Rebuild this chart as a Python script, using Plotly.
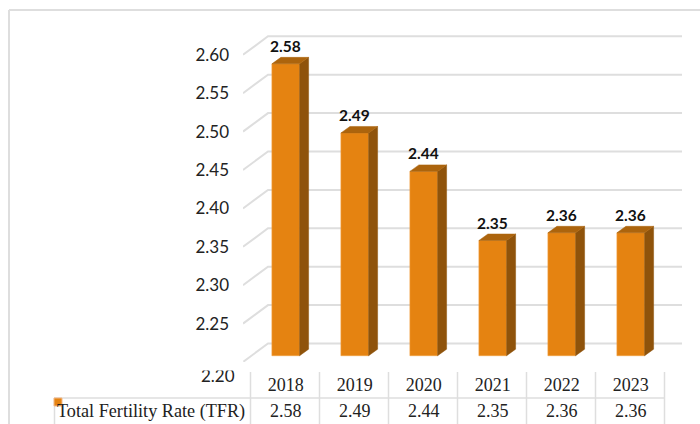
import plotly.graph_objects as go

years = ["2018", "2019", "2020", "2021", "2022", "2023"]
tfr = [2.58, 2.49, 2.44, 2.35, 2.36, 2.36]
series_name = "Total Fertility Rate (TFR)"
tick_vals = [2.25, 2.30, 2.35, 2.40, 2.45, 2.50, 2.55, 2.60]

W, H = 700, 424
L, R, T, B = 243, 682, 30, 362   # plot area in px
PX_X = 69.0      # px per category
PX_Y = 768.0     # px per unit
X0 = 285.75      # px of first category centre
BASE = 2.20

xs = list(range(len(years)))
bar_w = 27.7 / PX_X
ddx, ddy = 9 / PX_X, 6.5 / PX_Y
wdx, wdy = 25 / PX_X, 18.5 / PX_Y
xr = [(L - X0) / PX_X, (R - X0) / PX_X]
yr = [BASE, BASE + (B - T) / PX_Y]
plane = 6.3 / PX_Y
yr2 = [yr[0] - plane, yr[1] - plane]

fig = go.Figure()

# back wall grid with floor-wall diagonals
gx, gy = [], []
for v in [BASE] + tick_vals:
    gx += [xr[0], xr[0] + wdx, xr[1], None]
    gy += [v, v + wdy, v + wdy, None]
fig.add_trace(go.Scatter(x=gx, y=gy, mode="lines", line=dict(color="#DEDEDE", width=2),
                         hoverinfo="skip", showlegend=False, yaxis="y", cliponaxis=False))

# bars (front faces)
fig.add_trace(go.Bar(x=xs, y=[v - BASE for v in tfr], base=BASE, width=bar_w, yaxis="y2",
                     marker=dict(color="#E58311", line=dict(color="#F0A040", width=0.6)),
                     name=series_name, showlegend=False))

# side and top faces
sx, sy, tx, ty = [], [], [], []
for x, v in zip(xs, tfr):
    r = x + bar_w / 2
    l = x - bar_w / 2
    sx += [r, r + ddx, r + ddx, r, r, None]
    sy += [BASE, BASE + ddy, v + ddy, v, BASE, None]
    tx += [l, r, r + ddx, l + ddx, l, None]
    ty += [v, v, v + ddy, v + ddy, v, None]
fig.add_trace(go.Scatter(x=sx, y=sy, mode="lines", fill="toself", fillcolor="#8F530B",
                         line=dict(color="#8F530B", width=0.5), yaxis="y2",
                         hoverinfo="skip", showlegend=False))
fig.add_trace(go.Scatter(x=tx, y=ty, mode="lines", fill="toself", fillcolor="#AC640D",
                         line=dict(color="#AC640D", width=0.5), yaxis="y2",
                         hoverinfo="skip", showlegend=False))


def dx(x):
    return (x - L) / (R - L)


def dy(y):
    return (B - y) / (B - T)


annotations = []
# displaced bottom tick label, its top covered by a blank white box
annotations.append(dict(x=dx(237), y=dy(375.5), xref="paper", yref="paper", xanchor="right",
                        yanchor="middle", text="2.20", showarrow=False,
                        font=dict(family="Lato", size=17, color="#222")))
annotations.append(dict(x=dx(190), y=dy(370.5), xref="paper", yref="paper", xanchor="left",
                        yanchor="bottom", text=" ", showarrow=False, width=52, height=8,
                        borderpad=0, bgcolor="white", font=dict(size=6)))
for x, v in zip(xs, tfr):
    annotations.append(dict(x=x, y=v, xref="x", yref="y2", text=f"{v:.2f}", showarrow=False,
                            xshift=0, yshift=18,
                            font=dict(family="Lato", size=15.5, color="#111", weight="bold")))
    annotations.append(dict(x=x, y=dy(411), xref="x", yref="paper", text=f"{v:.2f}",
                            showarrow=False, yanchor="middle",
                            font=dict(family="Liberation Serif", size=18, color="#222")))
annotations.append(dict(x=dx(247), y=dy(411), xref="paper", yref="paper", xanchor="right",
                        text=series_name, showarrow=False, yanchor="middle",
                        font=dict(family="Liberation Serif", size=18.2, color="#222")))

shapes = []
GC = "#DEDEDE"


def line(x0, y0, x1, y1, w=1.5, c=GC):
    shapes.append(dict(type="line", xref="paper", yref="paper",
                       x0=dx(x0), x1=dx(x1), y0=dy(y0), y1=dy(y1),
                       line=dict(color=c, width=w), layer="above"))


def rect(x0, y0, x1, y1, fill, lc=None):
    shapes.append(dict(type="rect", xref="paper", yref="paper",
                       x0=dx(x0), x1=dx(x1), y0=dy(y0), y1=dy(y1),
                       fillcolor=fill, line=dict(color=lc or fill, width=1), layer="above"))


line(9, 10, 700, 10, 2)
line(9, 10, 9, 424, 2)
line(54, 398, 664.5, 398)
line(54.5, 398, 54.5, 424)
for i in range(7):
    line(250.5 + 69 * i, 372, 250.5 + 69 * i, 424)
rect(54, 398, 62, 406, "#E58311", "#F2B98A")

fig.update_layout(
    width=W, height=H, margin=dict(l=L, r=W - R, t=T, b=H - B),
    paper_bgcolor="white", plot_bgcolor="white", showlegend=False,
    xaxis=dict(range=xr, tickvals=xs, ticktext=years, showgrid=False, zeroline=False,
               showline=False, ticks="", ticklabelstandoff=10,
               tickfont=dict(family="Liberation Serif", size=18, color="#222")),
    yaxis=dict(range=yr, tickvals=tick_vals, ticktext=[f"{v:.2f}" for v in tick_vals],
               showgrid=False, zeroline=False, showline=False, ticks="", ticklabelstandoff=13,
               tickfont=dict(family="Lato", size=17, color="#222")),
    yaxis2=dict(range=yr2, overlaying="y", visible=False),
    annotations=annotations, shapes=shapes,
)
fig.write_html("out.html", config={"displayModeBar": False},
               post_script="document.body.style.margin='0';document.documentElement.style.overflow='hidden';")
